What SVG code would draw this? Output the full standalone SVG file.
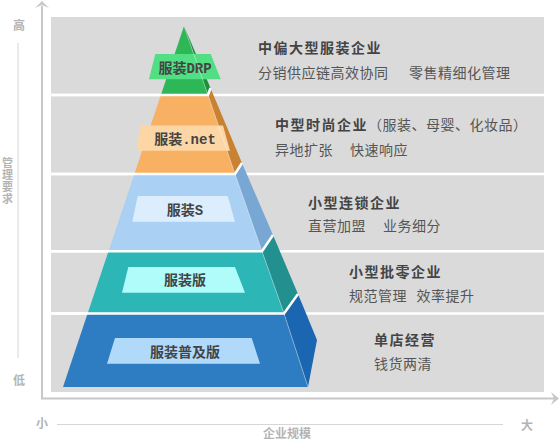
<svg xmlns="http://www.w3.org/2000/svg" width="560" height="440" viewBox="0 0 560 440">
<style>
.ax{fill:none;stroke:#c8c8c8;stroke-width:2}
.thin{fill:none;stroke:#d6d6d6;stroke-width:1}
.axl{font-family:"Noto Sans CJK SC","Liberation Sans",sans-serif;font-size:12px;font-weight:bold;fill:#b4b4b4;text-anchor:middle}
.axv{font-size:11px;writing-mode:vertical-rl;text-anchor:start;letter-spacing:1px}
.gap{fill:none;stroke:#fff;stroke-width:2.5;stroke-linejoin:miter}
.ridge{fill:none;stroke:#fff;stroke-opacity:.35;stroke-width:1}
.lbl{font-family:"Liberation Mono","Noto Sans CJK SC",monospace;font-size:14px;font-weight:bold;fill:#444;text-anchor:middle}
.t{font-family:"Noto Sans CJK SC","Liberation Sans",sans-serif;font-size:14px;font-weight:bold;fill:#444;letter-spacing:1.5px}
.s{font-family:"Noto Sans CJK SC","Liberation Sans",sans-serif;font-size:14px;fill:#555;letter-spacing:0.5px}
.sn{font-weight:normal;fill:#555;letter-spacing:0.5px}
</style>
<rect width="560" height="440" fill="#fff"/>
<g id="axes">
<path class="ax" d="M42,6 V398.5 H555"/>
<path d="M35,8 L42,1 L49,8 L42,5 Z" fill="#c8c8c8"/>
<path d="M551,392 L559,398.5 L551,405 L554,398.5 Z" fill="#c8c8c8"/>
<line class="thin" x1="18" y1="43" x2="18" y2="358"/>
<line class="thin" x1="57" y1="424.5" x2="503" y2="424.5"/>
<text class="axl" x="19" y="30">高</text>
<text class="axl" x="19" y="385">低</text>
<text class="axl axv" x="7.5" y="157">管理要求</text>
<text class="axl" x="42" y="428">小</text>
<text class="axl" x="527" y="430">大</text>
<text class="axl" x="287" y="438">企业规模</text>
</g>
<g id="panel">
<rect x="51" y="17" width="493" height="375" fill="#dadada"/>
<path class="gap" d="M51,95 H544 M51,174 H544 M51,251.3 H544 M51,313.5 H544"/>
</g>
<g id="layer-drp">
<polygon points="184,26 208,95 160.9,95" fill="#2db757"/>
<polygon points="184,26 210.5,88 208,95" fill="#1e8f3e"/>
<polygon points="155.3,54 210.7,54 220.7,79.3 149,79.3" fill="#52de82"/>
<text class="lbl" x="185" y="73">服装DRP</text>
</g>
<g id="layer-net">
<polygon points="160.9,95 208,95 235,174 134.4,174" fill="#f8b062"/>
<polygon points="208,95 210.5,88 242,163 235,174" fill="#c98232"/>
<polygon points="140,125.5 223,125.5 230,150.7 136.7,150.7" fill="#fdd6a6"/>
<text class="lbl" x="185" y="144">服装.net</text>
</g>
<g id="layer-s">
<polygon points="134.4,174 235,174 262,251.3 108.5,251.3" fill="#aad1f3"/>
<polygon points="235,174 242,163 273,235 262,251.3" fill="#79a7d3"/>
<polygon points="137.7,196 227.7,196 235,221.7 132.3,221.7" fill="#dceefd"/>
<text class="lbl" x="185" y="215">服装S</text>
</g>
<g id="layer-ban">
<polygon points="108.5,251.3 262,251.3 284,313.5 87.6,313.5" fill="#2db6b6"/>
<polygon points="262,251.3 273,235 298,294 284,313.5" fill="#22908f"/>
<polygon points="128.3,267 235,267 245,292.7 122,292.7" fill="#affcfa"/>
<text class="lbl" x="185" y="285">服装版</text>
</g>
<g id="layer-pu">
<polygon points="87.6,313.5 284,313.5 308,387 63,387" fill="#2e7cc1"/>
<polygon points="284,313.5 298,294 317,340 308,387" fill="#1a66b0"/>
<polygon points="115,338 251.7,338 260,363.7 107,363.7" fill="#b1dafa"/>
<text class="lbl" x="185" y="357">服装普及版</text>
</g>
<g id="connectors">
<path class="ridge" d="M184,26 L208,95 M208,95 L235,174 M235,174 L262,251.3 M262,251.3 L284,313.5 M284,313.5 L308,387"/>
<path class="gap" d="M51,95 H208 L210.5,88"/>
<path class="gap" d="M51,174 H235 L242,163"/>
<path class="gap" d="M51,251.3 H262 L273,235"/>
<path class="gap" d="M51,313.5 H284 L298,294"/>
</g>
<g id="desc-drp">
<text class="t" x="258" y="52.6">中偏大型服装企业</text>
<text class="s" x="258" y="77.6">分销供应链高效协同</text>
<text class="s" x="409" y="77.6">零售精细化管理</text>
</g>
<g id="desc-net">
<text class="t" x="275" y="129.6">中型时尚企业<tspan class="sn">（服装、母婴、化妆品）</tspan></text>
<text class="s" x="275" y="155.3">异地扩张</text>
<text class="s" x="350" y="155.3">快速响应</text>
</g>
<g id="desc-s">
<text class="t" x="308" y="207.6">小型连锁企业</text>
<text class="s" x="308" y="231">直营加盟</text>
<text class="s" x="383" y="231">业务细分</text>
</g>
<g id="desc-ban">
<text class="t" x="349" y="277">小型批零企业</text>
<text class="s" x="349" y="301.3">规范管理</text>
<text class="s" x="416.5" y="301.3">效率提升</text>
</g>
<g id="desc-pu">
<text class="t" x="374" y="345.3">单店经营</text>
<text class="s" x="374" y="369.3">钱货两清</text>
</g>
</svg>
